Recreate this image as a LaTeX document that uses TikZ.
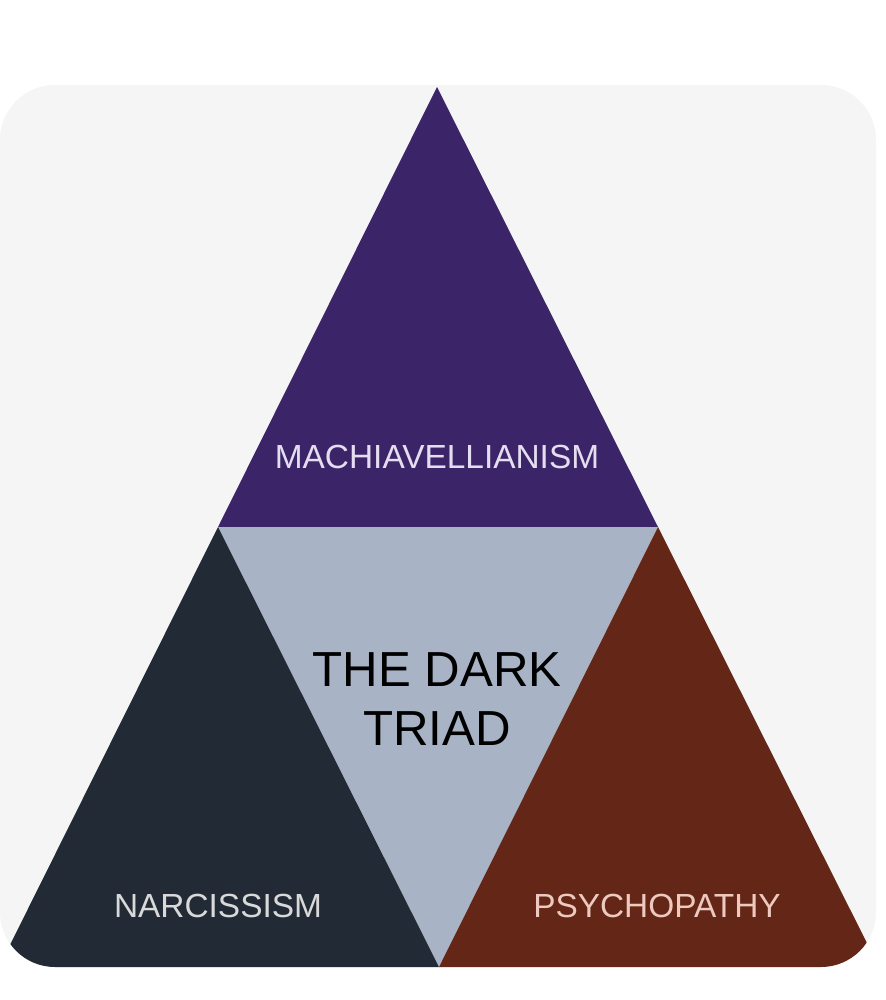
\documentclass[tikz,border=0pt]{standalone}
\usepackage{fontspec}
\setmainfont{Liberation Sans}
\usetikzlibrary{positioning}
\definecolor{dtpanel}{HTML}{F5F5F5}
\definecolor{dtmach}{HTML}{3C2468}
\definecolor{dtcore}{HTML}{A8B4C6}
\definecolor{dtnarc}{HTML}{222A35}
\definecolor{dtpsych}{HTML}{642616}
\definecolor{dtmachtext}{HTML}{E4DEF0}
\definecolor{dtnarctext}{HTML}{D9D9D9}
\definecolor{dtpsychtext}{HTML}{EEC9BF}
\tikzset{
  every picture/.style={font=\fontsize{9.5}{11}\selectfont},
  panel/.style={fill=dtpanel,rounded corners=5.5mm},
  part/.style={draw=none},
  trait/.style={inner sep=1pt,font=\fontsize{9.5}{11}\selectfont},
  title/.style={align=center,inner sep=1pt,text=black,
    font=\fontsize{14}{16.7}\selectfont},
}
\begin{document}
\begin{tikzpicture}[x=0.01cm,y=-0.01cm]
  \path[use as bounding box,fill=white] (0,0) rectangle (886,1000);
  \fill[panel] (0,85) rectangle (876,967);
  % corner points of the big triangle and the midpoints of its sides
  \coordinate (apex) at (437,87);
  \coordinate (bl) at (-1,967);
  \coordinate (br) at (879,967);
  \coordinate (ml) at (218,527);
  \coordinate (mr) at (658,527);
  \coordinate (mb) at (439,967);
  \begin{scope}
    \clip[rounded corners=5.5mm] (0,85) rectangle (876,967);
    \fill[part,dtmach] (apex) -- (ml) -- (mr) -- cycle;
    \fill[part,dtcore] (ml) -- (mr) -- (mb) -- cycle;
    \fill[part,dtnarc] (ml) -- (mb) -- (bl) -- cycle;
    \fill[part,dtpsych] (mr) -- (br) -- (mb) -- cycle;
  \end{scope}
  \node[trait,text=dtmachtext] (mach) at (437,457) {MACHIAVELLIANISM};
  \node[title] (triad) at (437,699) {THE DARK\\TRIAD};
  \node[trait,text=dtnarctext] (narc) at (218,906) {NARCISSISM};
  \node[trait,text=dtpsychtext] (psych) at (657,906) {PSYCHOPATHY};
\end{tikzpicture}
\end{document}
